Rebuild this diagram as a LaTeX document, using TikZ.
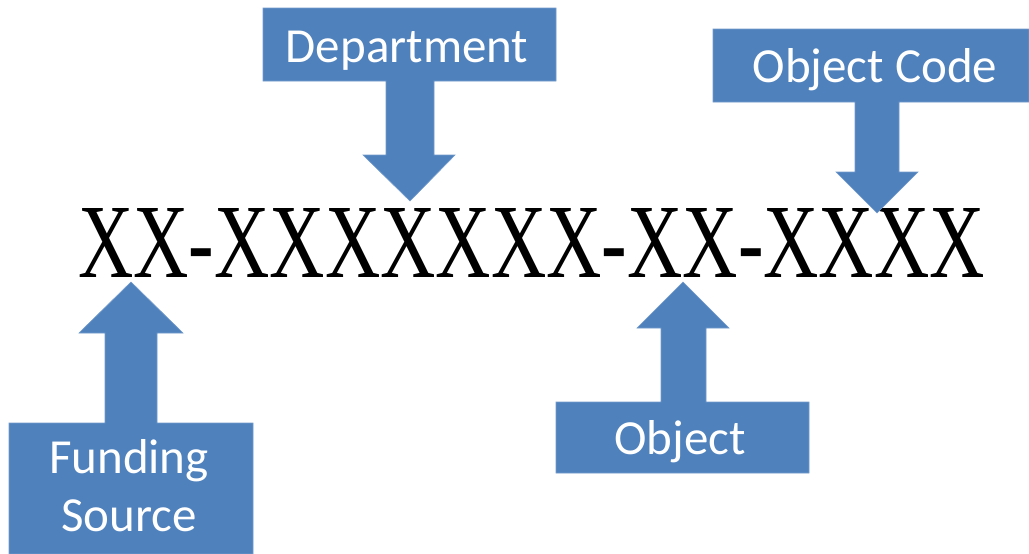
\documentclass[tikz,border=0pt]{standalone}
\usepackage{fontspec}
\setmainfont{Carlito}
\newfontfamily\codefont{Liberation Serif}
\usepackage{graphicx}
\definecolor{callblue}{HTML}{4F81BD}
\tikzset{
  calloutfill/.style={fill=callblue, draw=callblue!80!white, line width=0.6pt},
  calltext/.style={text=white, font=\fontsize{49}{57}\selectfont, inner sep=0pt, anchor=base, align=center},
}
\begin{document}
\begin{tikzpicture}[x=1pt, y=-1pt]
\useasboundingbox (0,0) rectangle (1029,554);
% code string
\node[anchor=base west, inner sep=0pt] (code) at (78,277)
  {\resizebox{907pt}{69pt}{\codefont XX-XXXXXXX-XX-XXXX}};
% Department callout
\coordinate (deptTip) at (410,201);
\fill[calloutfill] (263,8) -- (556,8) -- (556,81) -- (434,81) -- (434,155) -- (455,155)
  -- (deptTip) -- (363,155) -- (386,155) -- (386,81) -- (263,81) -- cycle;
\node[calltext] (dept) at (407,62) {Department};
% Object Code callout
\coordinate (ocTip) at (877,213);
\fill[calloutfill] (713,29) -- (1029,29) -- (1029,102) -- (899,102) -- (899,172) -- (918,172)
  -- (ocTip) -- (836,172) -- (855,172) -- (855,102) -- (713,102) -- cycle;
\node[calltext] (objcode) at (875,82) {Object Code};
% Funding Source callout
\coordinate (fsTip) at (131,282);
\fill[calloutfill] (9,554) -- (9,423) -- (105,423) -- (105,333) -- (79,333) -- (fsTip)
  -- (183,333) -- (157,333) -- (157,423) -- (253,423) -- (253,554) -- cycle;
\node[calltext] (fund) at (129,473) {Funding};
\node[calltext] (source) at (129,531) {Source};
% Object callout
\coordinate (objTip) at (683,282);
\fill[calloutfill] (556,473) -- (556,402) -- (661,402) -- (661,328) -- (637,328) -- (objTip)
  -- (729,328) -- (706,328) -- (706,402) -- (809,402) -- (809,473) -- cycle;
\node[calltext] (obj) at (680,454) {Object};
\end{tikzpicture}
\end{document}
